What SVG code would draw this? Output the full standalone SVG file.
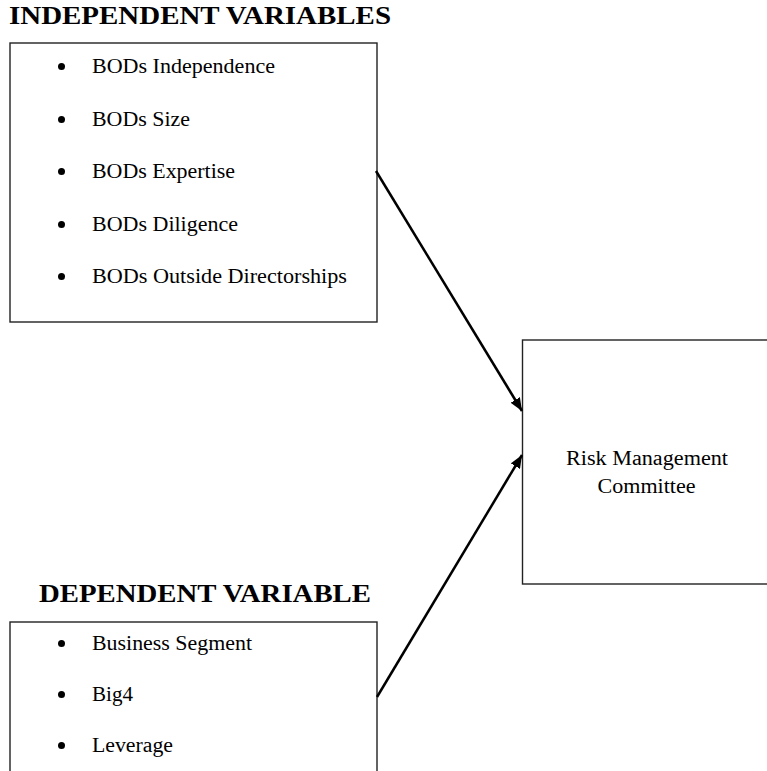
<svg xmlns="http://www.w3.org/2000/svg" width="767" height="771" viewBox="0 0 767 771">
<style>
.box{fill:#fff;stroke:#222;stroke-width:1.4}
.t{font-family:"Liberation Serif","Times New Roman",serif;font-size:20px;fill:#000}
.h{font-family:"Liberation Serif","Times New Roman",serif;font-size:26px;font-weight:bold;fill:#000}
.b{fill:#000}
.c{stroke:#000;stroke-width:2.5;fill:none}
</style>
<defs>
<marker id="ah" viewBox="0 0 12 10" markerWidth="13" markerHeight="11" refX="12" refY="5" orient="auto" markerUnits="userSpaceOnUse">
<path d="M0,0 L12,5 L0,10 z" fill="#000"/>
</marker>
</defs>
<rect width="767" height="771" fill="#fff"/>
<g id="independent">
<text class="h" x="9" y="24" textLength="382" lengthAdjust="spacingAndGlyphs">INDEPENDENT VARIABLES</text>
<rect class="box" x="10" y="43" width="367" height="279"/>
<circle class="b" cx="61.5" cy="66.5" r="3.5"/>
<text class="t" x="92" y="73" textLength="183" lengthAdjust="spacingAndGlyphs">BODs Independence</text>
<circle class="b" cx="61.5" cy="119.5" r="3.5"/>
<text class="t" x="92" y="126" textLength="98" lengthAdjust="spacingAndGlyphs">BODs Size</text>
<circle class="b" cx="61.5" cy="171.5" r="3.5"/>
<text class="t" x="92" y="178" textLength="143" lengthAdjust="spacingAndGlyphs">BODs Expertise</text>
<circle class="b" cx="61.5" cy="224.5" r="3.5"/>
<text class="t" x="92" y="231" textLength="146" lengthAdjust="spacingAndGlyphs">BODs Diligence</text>
<circle class="b" cx="61.5" cy="276.5" r="3.5"/>
<text class="t" x="92" y="283" textLength="255" lengthAdjust="spacingAndGlyphs">BODs Outside Directorships</text>
</g>
<g id="dependent">
<text class="h" x="39" y="602" textLength="332" lengthAdjust="spacingAndGlyphs">DEPENDENT VARIABLE</text>
<rect class="box" x="10" y="622" width="367" height="170"/>
<circle class="b" cx="61.5" cy="643.5" r="3.5"/>
<text class="t" x="92" y="650" textLength="160" lengthAdjust="spacingAndGlyphs">Business Segment</text>
<circle class="b" cx="61.5" cy="694.5" r="3.5"/>
<text class="t" x="92" y="701" textLength="41" lengthAdjust="spacingAndGlyphs">Big4</text>
<circle class="b" cx="61.5" cy="745.5" r="3.5"/>
<text class="t" x="92" y="752" textLength="81" lengthAdjust="spacingAndGlyphs">Leverage</text>
</g>
<g id="rmc">
<rect class="box" x="522.5" y="340" width="260" height="244"/>
<text class="t" x="647" y="465" text-anchor="middle" textLength="162" lengthAdjust="spacingAndGlyphs">Risk Management</text>
<text class="t" x="646.5" y="493" text-anchor="middle" textLength="98" lengthAdjust="spacingAndGlyphs">Committee</text>
</g>
<g id="connectors">
<line class="c" x1="376" y1="171" x2="522" y2="411" marker-end="url(#ah)"/>
<line class="c" x1="377" y1="697" x2="522" y2="455" marker-end="url(#ah)"/>
</g>
</svg>
